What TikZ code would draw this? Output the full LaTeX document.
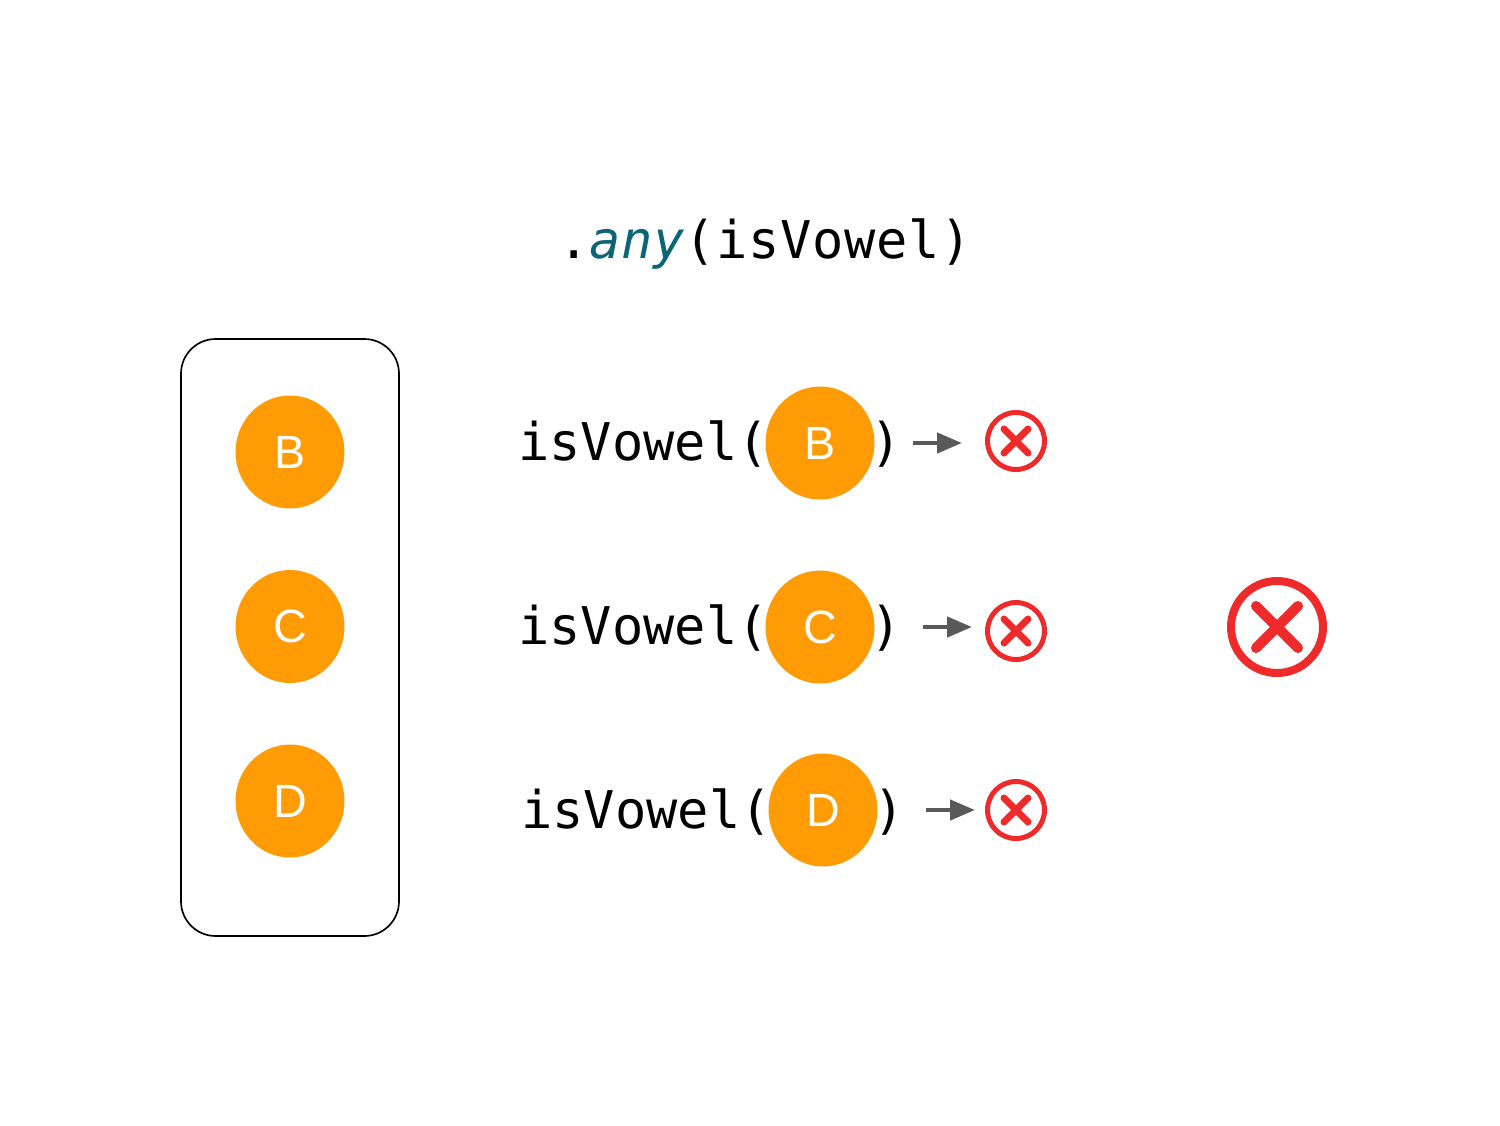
\documentclass[tikz,border=0pt]{standalone}
\usepackage{fontspec}
\setmainfont{Liberation Sans}
\setmonofont{DejaVu Sans Mono}
\usetikzlibrary{arrows.meta,shapes.geometric}
\definecolor{ballorange}{HTML}{FF9C05}
\definecolor{crossred}{HTML}{EE2A2B}
\definecolor{anyteal}{HTML}{0A6577}
\definecolor{arrowgrey}{HTML}{595959}

\begin{document}
\begin{tikzpicture}[x=0.75pt,y=-0.75pt,
	code/.style={anchor=base west,inner sep=0pt,font=\fontsize{39}{45}\selectfont\ttfamily},
	ball/.style={ellipse,fill=ballorange,text=white,inner sep=0pt,minimum width=81.75pt,minimum height=84.75pt,font=\fontsize{35}{40}\selectfont},
	arrowline/.style={draw=arrowgrey,line width=3.4pt,-{Triangle[length=18.75pt,width=15pt]}},
	crosssmall/.style={circle,draw=crossred,line width=3.75pt,minimum size=42.75pt,inner sep=0pt,
		path picture={\draw[crossred,line width=5.25pt,line cap=round] (path picture bounding box.center) ++(-12,-12) -- ++(24,24) ++(-24,0) -- ++(24,-24);}},
	crossbig/.style={circle,draw=crossred,line width=6pt,minimum size=69pt,inner sep=0pt,
		path picture={\draw[crossred,line width=7.5pt,line cap=round] (path picture bounding box.center) ++(-21,-21) -- ++(42,42) ++(-42,0) -- ++(42,-42);}}]
\useasboundingbox (0,0) rectangle (1500,1125);
\node[code] (title) at (558,258) {\addfontfeature{LetterSpace=1.3}.{\color{anyteal}\itshape any}(isVowel)};
\node[draw,line width=1.25pt,rounded corners=26pt,minimum width=163.5pt,minimum height=447.75pt] (list) at (290,637.5) {};
\node[ball] (B) at (290,452) {B};
\node[ball] (C) at (290,626.5) {C};
\node[ball] (D) at (290,801) {D};
% calls
\node[code] (call1) at (518,460) {isVowel(};
\node[code] (close1) at (870,460) {)};
\node[ball] (b1) at (820,443) {B};
\node[code] (call2) at (518,644) {isVowel(};
\node[code] (close2) at (870,644) {)};
\node[ball] (b2) at (820,627) {C};
\node[code] (call3) at (521,828) {isVowel(};
\node[code] (close3) at (873,828) {)};
\node[ball] (b3) at (823,810) {D};
\node[crosssmall] (no1) at (1016,441) {};
\node[crosssmall] (no2) at (1016,631) {};
\node[crosssmall] (no3) at (1016,810) {};
\node[crossbig] (result) at (1277,627) {};
\draw[arrowline,shorten <=8pt,shorten >=17.25pt] (b1 -| close1.east) -- (b1 -| no1.west);
\draw[arrowline,shorten <=16.2pt,shorten >=9.75pt] (b2 -| close2.east) -- (b2 -| no2.west);
\draw[arrowline,shorten <=16.2pt,shorten >=7.5pt] (b3 -| close3.east) -- (b3 -| no3.west);
\end{tikzpicture}
\end{document}
